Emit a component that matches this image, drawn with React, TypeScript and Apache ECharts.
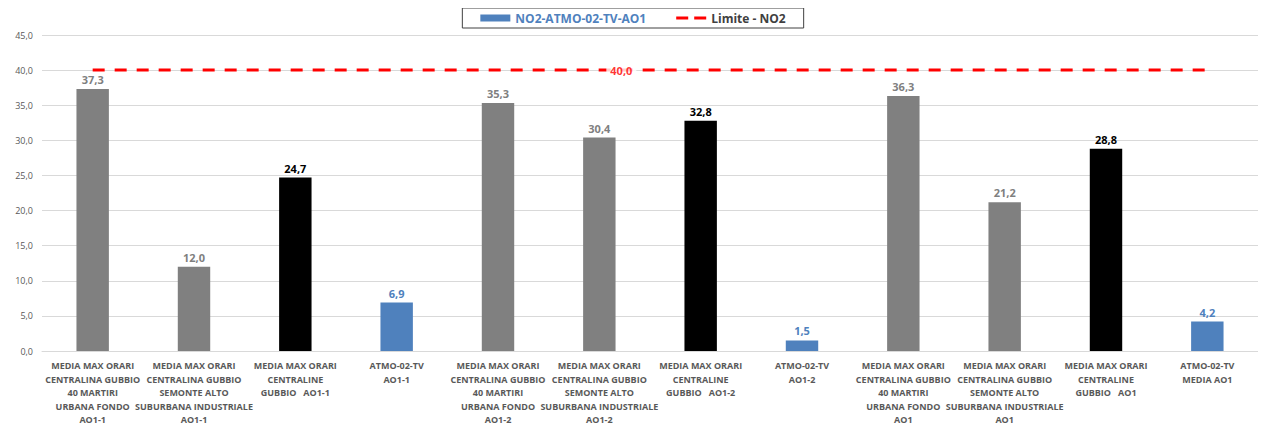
import React, { useEffect, useRef } from "react";
import * as echarts from "echarts";

const categories = [
  "MEDIA MAX ORARI\nCENTRALINA GUBBIO\n40 MARTIRI\nURBANA FONDO\nAO1-1",
  "MEDIA MAX ORARI\nCENTRALINA GUBBIO\nSEMONTE ALTO\nSUBURBANA INDUSTRIALE\nAO1-1",
  "MEDIA MAX ORARI\nCENTRALINE\nGUBBIO   AO1-1",
  "ATMO-02-TV\nAO1-1",
  "MEDIA MAX ORARI\nCENTRALINA GUBBIO\n40 MARTIRI\nURBANA FONDO\nAO1-2",
  "MEDIA MAX ORARI\nCENTRALINA GUBBIO\nSEMONTE ALTO\nSUBURBANA INDUSTRIALE\nAO1-2",
  "MEDIA MAX ORARI\nCENTRALINE\nGUBBIO   AO1-2",
  "ATMO-02-TV\nAO1-2",
  "MEDIA MAX ORARI\nCENTRALINA GUBBIO\n40 MARTIRI\nURBANA FONDO\nAO1",
  "MEDIA MAX ORARI\nCENTRALINA GUBBIO\nSEMONTE ALTO\nSUBURBANA INDUSTRIALE\nAO1",
  "MEDIA MAX ORARI\nCENTRALINE\nGUBBIO   AO1",
  "ATMO-02-TV\nMEDIA AO1",
];

const no2Values = [37.3, 12.0, 24.7, 6.9, 35.3, 30.4, 32.8, 1.5, 36.3, 21.2, 28.8, 4.2];
const barKinds = ["station", "station", "average", "atmo", "station", "station", "average", "atmo", "station", "station", "average", "atmo"];
const limitValues = [40, 40, 40, 40, 40, 40, 40, 40, 40, 40, 40, 40];
const limitLabelIndex = 5;

const barSeriesName = "NO2-ATMO-02-TV-AO1";
const limitSeriesName = "Limite - NO2";

const kindStyle: Record<string, { bar: string; label: string }> = {
  station: { bar: "#808080", label: "#7f7f7f" },
  average: { bar: "#000000", label: "#000000" },
  atmo: { bar: "#4f81bd", label: "#4f81bd" },
};

const fmt = (v: number) => v.toFixed(1).replace(".", ",");

export default function App() {
  const ref = useRef<HTMLDivElement>(null);
  useEffect(() => {
    if (!ref.current) return;
    const chart = echarts.init(ref.current, null, { renderer: "svg" });
    const font = "'Open Sans', 'Liberation Sans', sans-serif";
    chart.setOption({
      animation: false,
      textStyle: { fontFamily: font },
      graphic: [
        { type: "rect", z: -1, shape: { x: 0, y: 0, width: 1266, height: 3 }, style: { fill: "#000" } },
      ],
      legend: {
        top: 8,
        left: "center",
        borderColor: "#404040",
        borderWidth: 1,
        padding: [4, 18, 4, 18],
        itemGap: 30,
        itemWidth: 30,
        itemHeight: 7,
        textStyle: { fontSize: 12, fontWeight: "bold", fontFamily: font },
        data: [
          { name: barSeriesName, icon: "rect", textStyle: { color: "#4f81bd" } },
          {
            name: limitSeriesName,
            icon: "path://M0,0 M0,2h12v3h-12z M18,2h12v3h-12z M30,7",
            itemStyle: { color: "#ff0000" },
            textStyle: { color: "#404040" },
          },
        ],
      },
      grid: { left: 42, right: 8, top: 35, bottom: 77, containLabel: false },
      xAxis: {
        type: "category",
        data: categories,
        axisLine: { lineStyle: { color: "#d9d9d9" } },
        axisTick: { show: false },
        axisLabel: {
          interval: 0,
          color: "#595959",
          fontSize: 9,
          fontWeight: "bold",
          lineHeight: 13.5,
          margin: 8,
          fontFamily: font,
        },
      },
      yAxis: {
        type: "value",
        min: 0,
        max: 45,
        interval: 5,
        axisLine: { show: false },
        axisTick: { show: false },
        splitLine: { lineStyle: { color: "#d9d9d9" } },
        axisLabel: {
          color: "#595959",
          fontSize: 9,
          margin: 9,
          formatter: (v: number) => fmt(v),
          fontFamily: font,
        },
      },
      series: [
        {
          name: barSeriesName,
          type: "bar",
          barWidth: "32%",
          itemStyle: { color: "#4f81bd" },
          data: no2Values.map((v, i) => {
            const s = kindStyle[barKinds[i]];
            return {
              value: v,
              itemStyle: { color: s.bar },
              label: { color: s.label },
            };
          }),
          label: {
            show: true,
            position: "top",
            distance: 4,
            fontSize: 11,
            fontWeight: "bold",
            fontFamily: font,
            formatter: (p: any) => fmt(p.value),
          },
        },
        {
          name: limitSeriesName,
          type: "line",
          symbol: "none",
          z: 5,
          lineStyle: { color: "#ff0000", width: 3, type: [12, 10] },
          itemStyle: { color: "#ff0000" },
          data: limitValues,
        },
        {
          name: "limitLabel",
          type: "scatter",
          symbolSize: 0,
          z: 10,
          silent: true,
          data: limitValues.map((v, i) => (i === limitLabelIndex ? v : null)),
          label: {
            show: true,
            position: "inside",
            offset: [22, 0],
            color: "#ff0000",
            fontSize: 11,
            fontWeight: "bold",
            backgroundColor: "#ffffff",
            padding: [1, 4],
            fontFamily: font,
            formatter: (p: any) => fmt(p.value),
          },
        },
      ],
    });
    return () => chart.dispose();
  }, []);
  return <div ref={ref} style={{ width: 1266, height: 428, marginLeft: -8, marginTop: -8 }} />;
}
